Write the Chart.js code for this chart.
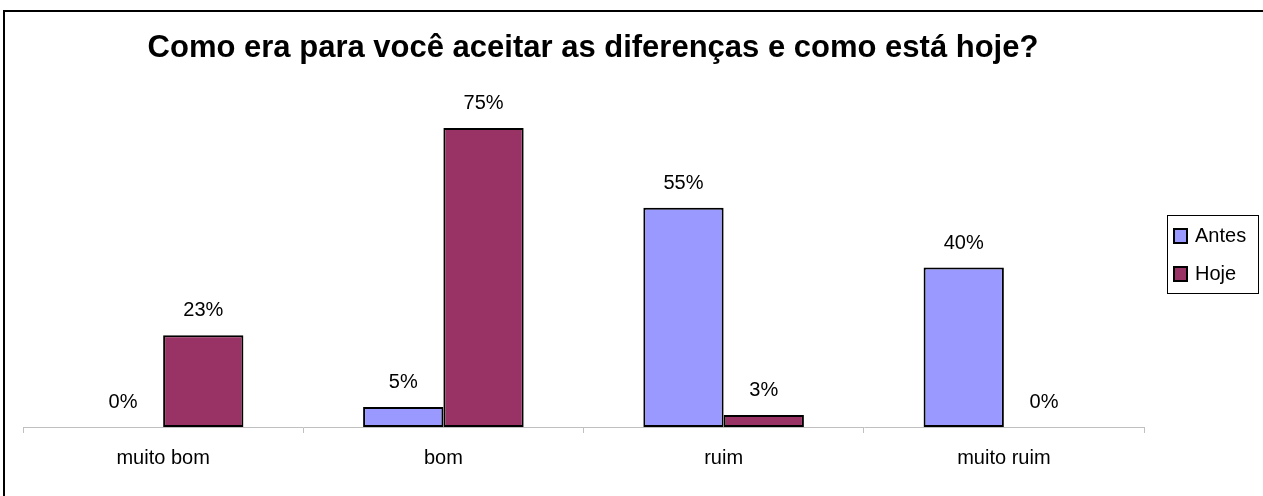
<!DOCTYPE html>
<html>
<head>
<meta charset="utf-8">
<script src="https://cdn.jsdelivr.net/npm/chart.js@4"></script>
<style>
  html, body { margin: 0; padding: 0; background: #fff; }
  #wrap { width: 1263px; height: 496px; position: relative; }
</style>
</head>
<body>
<div id="wrap"><canvas id="chart" width="1263" height="496"></canvas></div>
<script>
// data
const categories = ['muito bom', 'bom', 'ruim', 'muito ruim'];
const antesValues = [0, 5, 55, 40];
const hojeValues = [23, 75, 3, 0];
const seriesNames = ['Antes', 'Hoje'];
const chartTitle = 'Como era para você aceitar as diferenças e como está hoje?';

const FONT = '"Liberation Sans", Arial, sans-serif';
const colors = ['#9999ff', '#993366'];

// frame, title, value labels and boxed legend
const extras = {
    id: 'extras',
    beforeDraw(chart) {
        const ctx = chart.ctx;
        ctx.save();
        ctx.fillStyle = '#fff';
        ctx.fillRect(0, 0, chart.width, chart.height);
        ctx.fillStyle = '#000';
        ctx.fillRect(3, 10, chart.width - 3, 2);
        ctx.fillRect(3, 10, 2, chart.height - 10);
        ctx.restore();
    },
    afterDraw(chart) {
        const ctx = chart.ctx;
        ctx.save();

        ctx.fillStyle = '#000';
        ctx.font = 'bold 31px ' + FONT;
        ctx.textAlign = 'center';
        ctx.textBaseline = 'alphabetic';
        ctx.fillText(chartTitle, 593, 57);

        ctx.font = '20px ' + FONT;
        chart.data.datasets.forEach((ds, i) => {
            const meta = chart.getDatasetMeta(i);
            meta.data.forEach((bar, j) => {
                ctx.fillText(ds.data[j] + '%', bar.x, bar.y - 19);
            });
        });

        // legend
        ctx.lineWidth = 1;
        ctx.strokeStyle = '#000';
        ctx.strokeRect(1167.5, 215.5, 91, 78);
        ctx.textAlign = 'left';
        const rows = [242, 280];
        seriesNames.forEach((name, i) => {
            const y = rows[i];
            ctx.fillStyle = colors[i];
            ctx.fillRect(1174, y - 13, 13, 14);
            ctx.lineWidth = 2;
            ctx.strokeRect(1174, y - 13, 13, 14);
            ctx.fillStyle = '#000';
            ctx.fillText(name, 1195, y);
        });
        ctx.restore();
    }
};

new Chart(document.getElementById('chart'), {
    type: 'bar',
    data: {
        labels: categories,
        datasets: [
            { label: seriesNames[0], data: antesValues, backgroundColor: colors[0] },
            { label: seriesNames[1], data: hojeValues, backgroundColor: colors[1] }
        ]
    },
    options: {
        responsive: false,
        animation: false,
        layout: { padding: { left: 23, right: 119, top: 108, bottom: 13 } },
        datasets: {
            bar: {
                categoryPercentage: 0.573,
                barPercentage: 1,
                borderColor: '#000',
                borderWidth: 2,
                borderSkipped: false
            }
        },
        plugins: {
            legend: { display: false },
            tooltip: { enabled: false },
            title: { display: false }
        },
        scales: {
            x: {
                grid: { drawOnChartArea: false, drawTicks: true, tickLength: 6, color: '#c0c0c0', offset: true },
                border: { color: '#c0c0c0', width: 1 },
                ticks: { color: '#000', font: { family: FONT, size: 20 }, padding: 13, maxRotation: 0 }
            },
            y: {
                display: false,
                min: 0,
                max: 80
            }
        }
    },
    plugins: [extras]
});
</script>
</body>
</html>
